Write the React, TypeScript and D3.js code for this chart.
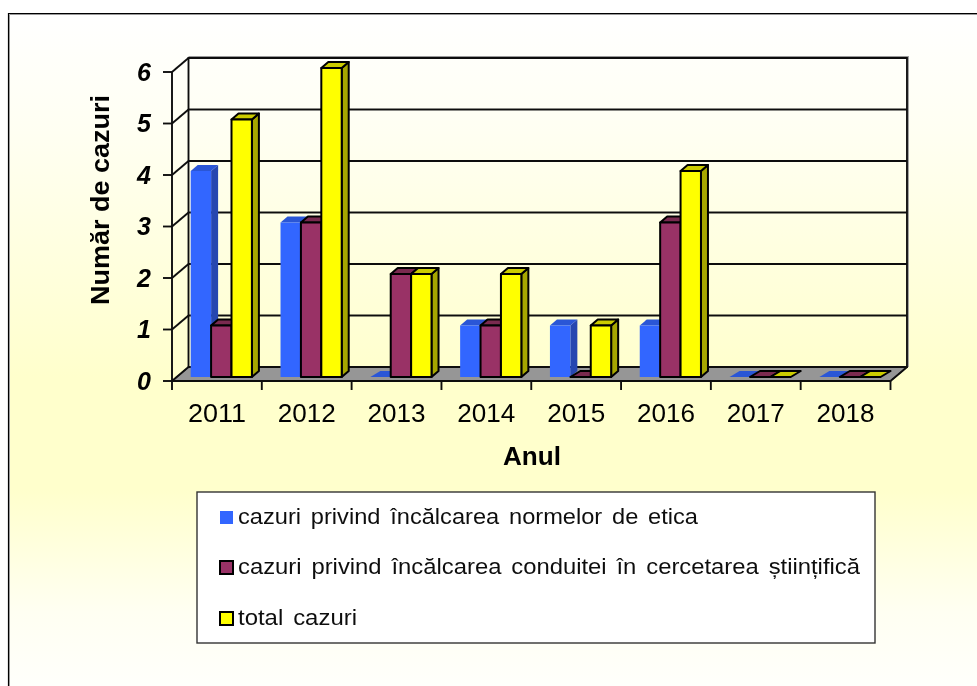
import React from "react";
import * as d3 from "d3";

const years = ["2011","2012","2013","2014","2015","2016","2017","2018"];
const etica = [4,3,0,1,1,1,0,0];
const conduita = [1,3,2,1,0,3,0,0];
const total = [5,6,2,2,1,4,0,0];
const yTicks = [0,1,2,3,4,5,6];
const seriesNames = [
  "cazuri privind încălcarea normelor de etica",
  "cazuri privind încălcarea conduitei în cercetarea științifică",
  "total cazuri",
];
const seriesValues = [etica, conduita, total];
const seriesColors = [
  { front: "#3366FF", top: "#2B56D6", side: "#2647B0", stroke: "none" },
  { front: "#993366", top: "#7A2950", side: "#6E2449", stroke: "#000" },
  { front: "#FFFF00", top: "#CCCC00", side: "#A6A600", stroke: "#000" },
];

const W = 977, H = 686;
const x0 = 172, x1 = 890.5, yFront = 381, yFrontTop = 72;
const wallDx = 16.5, wallDy = -14;
const xScale = d3.scaleBand<string>().domain(years).range([x0, x1]);
const yAxis = d3.scaleLinear().domain([0, 6]).range([yFront, yFrontTop]);
const barDx = 7, barDy = -6;
const barOffX = 18.7, barW = 20.4, barBase = -4;

export default function App() {
  const bars = years.map((yr, i) =>
    seriesValues.map((vals, s) => {
      const c = seriesColors[s];
      const l = xScale(yr)! + barOffX + s * barW;
      const r = l + barW;
      const b = yFront + barBase;
      const t = yAxis(vals[i]) + barBase;
      const sw = c.stroke === "none" ? 0 : 2;
      const zero = vals[i] === 0;
      const zdx = 10, zdy = -6;
      if (zero) {
        return (
          <polygon key={s}
            points={`${l},${b} ${r},${b} ${r + zdx},${b + zdy} ${l + zdx},${b + zdy}`}
            fill={c.top} stroke={c.stroke} strokeWidth={sw} strokeLinejoin="round" />
        );
      }
      return (
        <g key={s} stroke={c.stroke} strokeWidth={sw} strokeLinejoin="round">
          <polygon points={`${r},${t} ${r + barDx},${t + barDy} ${r + barDx},${b + barDy} ${r},${b}`} fill={c.side} />
          <polygon points={`${l},${t} ${l + barDx},${t + barDy} ${r + barDx},${t + barDy} ${r},${t}`} fill={c.top} />
          <rect x={l} y={t} width={barW} height={b - t} fill={c.front} />
        </g>
      );
    })
  );
  const bgTop = 14, bgH = H - bgTop;
  const stop = (y: number) => (y - bgTop) / bgH;
  return (
    <svg width={W} height={H} style={{ position: "absolute", left: 0, top: 0, fontFamily: "'Liberation Sans', Arial, sans-serif" }}>
      <defs>
        <linearGradient id="bg" x1="0" y1="0" x2="0" y2="1">
          <stop offset={stop(14)} stopColor="#FFFFFF" />
          <stop offset={stop(130)} stopColor="#FFFFF2" />
          <stop offset={stop(370)} stopColor="#FFFFCC" />
          <stop offset={stop(480)} stopColor="#FFFFCC" />
          <stop offset={stop(600)} stopColor="#FFFFF2" />
          <stop offset={stop(686)} stopColor="#FFFFFD" />
        </linearGradient>
        <filter id="soft" x="0" y="0" width="100%" height="100%" filterUnits="userSpaceOnUse" primitiveUnits="userSpaceOnUse">
          <feGaussianBlur stdDeviation="0.4" />
        </filter>
      </defs>
      <rect x={9} y={14} width={W} height={H} fill="url(#bg)" />
      <path d={`M8.5,${H} V13.5 H${W}`} fill="none" stroke="#000" strokeWidth={1.2} />
      <path d={`M9.5,${H} V14.5 H${W}`} fill="none" stroke="#999" strokeWidth={1} />

      <g filter="url(#soft)">
        {/* floor */}
        <polygon points={`${x0},${yFront} ${x1},${yFront} ${x1 + wallDx},${yFront + wallDy} ${x0 + wallDx},${yFront + wallDy}`} fill="#969696" stroke="#222" strokeWidth={1.2} />
        {/* walls */}
        <path d={`M${x0 + wallDx},${yFrontTop + wallDy - 1.3} H${x1 + wallDx + 1.3} V${yFront + wallDy}`} fill="none" stroke="#999" strokeWidth={1.2} />
        <g fill="none" stroke="#111" strokeWidth={1.9}>
          <rect x={x0 + wallDx} y={yFrontTop + wallDy} width={x1 - x0} height={yFront - yFrontTop} />
          <line x1={x0} y1={yFront} x2={x0} y2={yFrontTop} />
          {yTicks.map(t => (
            <g key={t}>
              <line x1={x0 - 9} x2={x0} y1={yAxis(t)} y2={yAxis(t)} />
              <line x1={x0} x2={x0 + wallDx} y1={yAxis(t)} y2={yAxis(t) + wallDy} />
              <line x1={x0 + wallDx} x2={x1 + wallDx} y1={yAxis(t) + wallDy} y2={yAxis(t) + wallDy} />
            </g>
          ))}
          <line x1={x1} y1={yFront} x2={x1 + wallDx} y2={yFront + wallDy} />
          <line x1={x0} x2={x1} y1={yFront} y2={yFront} />
          {[...years.map(y => xScale(y)!), x1].map((x, i) => (
            <line key={i} x1={x} x2={x} y1={yFront} y2={yFront + 9} />
          ))}
        </g>
        {bars}

        {yTicks.map(t => (
          <text key={t} x={151} y={yAxis(t) + 8.5} textAnchor="end" fontSize={25} fontWeight="bold" fontStyle="italic" fill="#000">{t}</text>
        ))}
        {years.map(y => (
          <text key={y} x={xScale(y)! + xScale.bandwidth() / 2} y={422} textAnchor="middle" fontSize={25} fill="#000" textLength={58} lengthAdjust="spacingAndGlyphs">{y}</text>
        ))}
        <text x={532} y={465} textAnchor="middle" fontSize={25} fontWeight="bold" textLength={58} lengthAdjust="spacingAndGlyphs">Anul</text>
        <text transform="translate(109,200) rotate(-90)" textAnchor="middle" fontSize={26} fontWeight="bold" textLength={210} lengthAdjust="spacingAndGlyphs">Număr de cazuri</text>

        {/* legend */}
        <rect x={197} y={492} width={678} height={151} fill="#fff" stroke="#333" strokeWidth={1.4} />
        {seriesNames.map((n, i) => {
          const cy = [517, 567, 618][i];
          const c = seriesColors[i];
          const lens = [460, 622, 119];
          return (
            <g key={n}>
              <rect x={220} y={cy - 6} width={13} height={13} fill={c.front} stroke={c.stroke === "none" ? "none" : "#000"} strokeWidth={2} />
              <text x={238} y={cy + 7} fontSize={22} textLength={lens[i]} lengthAdjust="spacingAndGlyphs" fill="#111" wordSpacing={3}>{n}</text>
            </g>
          );
        })}
      </g>
    </svg>
  );
}
